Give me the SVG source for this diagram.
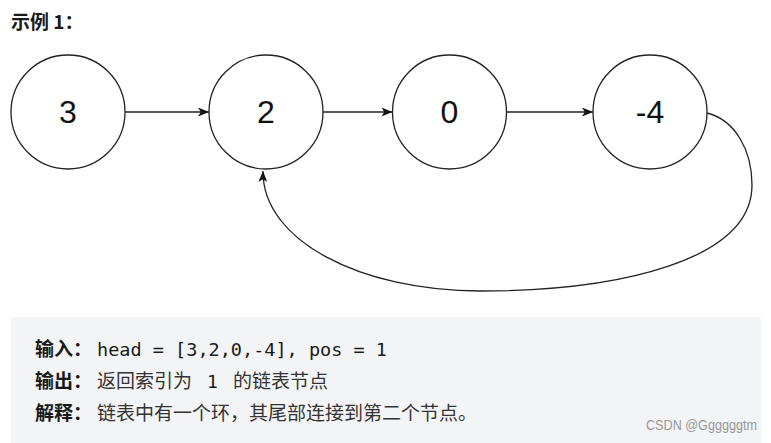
<svg xmlns="http://www.w3.org/2000/svg" width="771" height="443" viewBox="0 0 771 443">
<style>
.node circle{fill:#fff;stroke:#222;stroke-width:1.3}
.node text{font-family:"Liberation Sans",Arial,sans-serif;font-size:32px;fill:#111;text-anchor:middle}
.edge{fill:none;stroke:#222;stroke-width:1.3}
.cjk{font-family:"Noto Sans CJK SC",sans-serif;font-size:19px;fill:#333}
.b{font-weight:bold;fill:#1a1a1a}
.mono{font-family:"DejaVu Sans Mono","Liberation Mono",monospace;font-size:18px;fill:#1a1a1a}
</style>
<defs>
<marker id="arr" viewBox="0 0 11 9" refX="11" refY="4.5" markerWidth="11" markerHeight="9" markerUnits="userSpaceOnUse" orient="auto">
<path d="M0,0 L11,4.5 L0,9 L2.8,4.5 Z" fill="#111"/>
</marker>
</defs>
<rect width="771" height="443" fill="#fff"/>
<text x="11" y="29" class="cjk b" font-size="20" fill="#111">示例 1：</text>
<g id="n3" class="node"><circle cx="68" cy="112" r="57"/><text x="68" y="123">3</text></g>
<g id="n2" class="node"><circle cx="266" cy="112" r="57"/><text x="266" y="123">2</text></g>
<g id="n0" class="node"><circle cx="449.5" cy="112" r="57"/><text x="449.5" y="123">0</text></g>
<g id="nm4" class="node"><circle cx="650" cy="112" r="57"/><text x="650" y="123">-4</text></g>
<g id="connectors">
<path class="edge" d="M125,112 L209,112" marker-end="url(#arr)"/>
<path class="edge" d="M323,112 L392.5,112" marker-end="url(#arr)"/>
<path class="edge" d="M506.5,112 L593,112" marker-end="url(#arr)"/>
<path class="edge" d="M707,113 C735,120 752,150 752,185 C752,260 620,291 480,291 C360,291 262,240 263,171" marker-end="url(#arr)"/>
</g>
<g id="explain">
<rect x="11" y="317" width="750" height="130" rx="3" fill="#f3f4f5"/>
<text x="35" y="356" class="cjk b">输入：</text>
<text x="97" y="356" class="mono" textLength="290" lengthAdjust="spacingAndGlyphs">head = [3,2,0,-4], pos = 1</text>
<text x="35" y="388" class="cjk b">输出：</text>
<text x="97" y="388" class="cjk">返回索引为</text>
<text x="207" y="388" class="mono">1</text>
<text x="233" y="388" class="cjk">的链表节点</text>
<text x="35" y="420" class="cjk b">解释：</text>
<text x="97" y="420" class="cjk">链表中有一个环，其尾部连接到第二个节点。</text>
<text x="646" y="430" font-family="'Liberation Sans',Arial,sans-serif" font-size="14" fill="#999" textLength="111" lengthAdjust="spacingAndGlyphs">CSDN @Ggggggtm</text>
</g>
</svg>
